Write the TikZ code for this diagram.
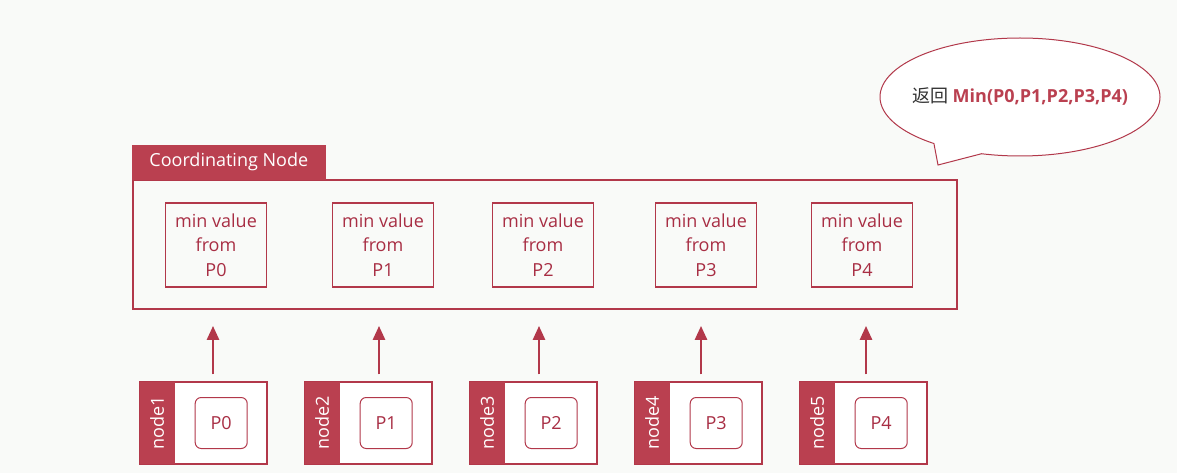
\documentclass[tikz,border=0pt]{standalone}
\usepackage{fontspec}
\setmainfont{Open Sans}
\newfontfamily\cjk{Noto Sans CJK SC}
\usetikzlibrary{positioning,calc,shapes.callouts,arrows.meta}
\definecolor{esred}{RGB}{186,64,80}
\definecolor{esline}{RGB}{178,56,74}
\definecolor{estext}{RGB}{168,46,68}
\definecolor{esbg}{RGB}{249,250,248}
\tikzset{
  coordbox/.style={draw=esline,line width=1.8pt,minimum width=824pt,minimum height=129pt,inner sep=0pt},
  titletab/.style={fill=esred,draw=esred,text=white,minimum width=193pt,minimum height=34pt,inner sep=0pt,anchor=south west},
  minbox/.style={draw=esline,line width=1.2pt,text=estext,align=center,minimum width=101pt,minimum height=84pt,inner sep=0pt},
  shardnode/.style={draw=esline,line width=1.2pt,fill=white,minimum width=127pt,minimum height=82pt,inner sep=0pt},
  band/.style={fill=esred,text=white,rotate=90,anchor=north,minimum width=82pt,minimum height=35pt,inner sep=0pt},
  shard/.style={draw=esline,line width=1pt,rounded corners=6pt,text=estext,minimum width=52pt,minimum height=51pt,inner sep=0pt},
  uparrow/.style={draw=esline,line width=2.6pt,-{Triangle[width=12pt,length=14pt]},shorten <=7pt,shorten >=16pt},
  bubble/.style={ellipse callout,draw=esline,line width=1pt,fill=white,minimum width=280pt,minimum height=118pt,inner xsep=-15pt,inner ysep=0pt,callout pointer arc=22}
}
\begin{document}
\begin{tikzpicture}[x=1pt,y=-1pt,font=\fontsize{18}{24.5}\selectfont,node distance=161.5pt,on grid]
\fill[esbg] (0,0) rectangle (1177,473);
\useasboundingbox (0,0) rectangle (1177,473);
% coordinating node
\node[coordbox](cn) at (545,244.5) {};
\node[titletab](cntitle) at (cn.north west) {Coordinating Node};
\node[minbox](m0) at (216,245) {min value\\from\\P0};
\node[minbox](m1)[right=167pt of m0] {min value\\from\\P1};
\node[minbox](m2)[right=160pt of m1] {min value\\from\\P2};
\node[minbox](m3)[right=163pt of m2] {min value\\from\\P3};
\node[minbox](m4)[right=156pt of m3] {min value\\from\\P4};
% data nodes
\node[shardnode](n1) at (203.5,423) {};
\node[shardnode](n2)[right=165pt of n1] {};
\node[shardnode](n3)[right=165pt of n2] {};
\node[shardnode](n4)[right=165pt of n3] {};
\node[shardnode](n5)[right=165pt of n4] {};
\node[band](b1) at (n1.west) {node1};
\node[band](b2) at (n2.west) {node2};
\node[band](b3) at (n3.west) {node3};
\node[band](b4) at (n4.west) {node4};
\node[band](b5) at (n5.west) {node5};
\node[shard](p0) at ($(b1.south)!0.5!(n1.east)$) {P0};
\node[shard](p1) at ($(b2.south)!0.5!(n2.east)$) {P1};
\node[shard](p2) at ($(b3.south)!0.5!(n3.east)$) {P2};
\node[shard](p3) at ($(b4.south)!0.5!(n4.east)$) {P3};
\node[shard](p4) at ($(b5.south)!0.5!(n5.east)$) {P4};
\path
  ([xshift=-3pt]m0 |- n1.north) edge[uparrow] ([xshift=-3pt]m0 |- cn.south)
  ([xshift=-4pt]m1 |- n2.north) edge[uparrow] ([xshift=-4pt]m1 |- cn.south)
  ([xshift=-4pt]m2 |- n3.north) edge[uparrow] ([xshift=-4pt]m2 |- cn.south)
  ([xshift=-5pt]m3 |- n4.north) edge[uparrow] ([xshift=-5pt]m3 |- cn.south)
  ([xshift=4pt]m4 |- n5.north) edge[uparrow] ([xshift=4pt]m4 |- cn.south);
% result
\node[bubble,callout absolute pointer={(938,165)}](ret) at (1020,97)
  {{\cjk\color{black!80}返回} \textbf{\color{esred}Min(P0,P1,P2,P3,P4)}};
\end{tikzpicture}
\end{document}
